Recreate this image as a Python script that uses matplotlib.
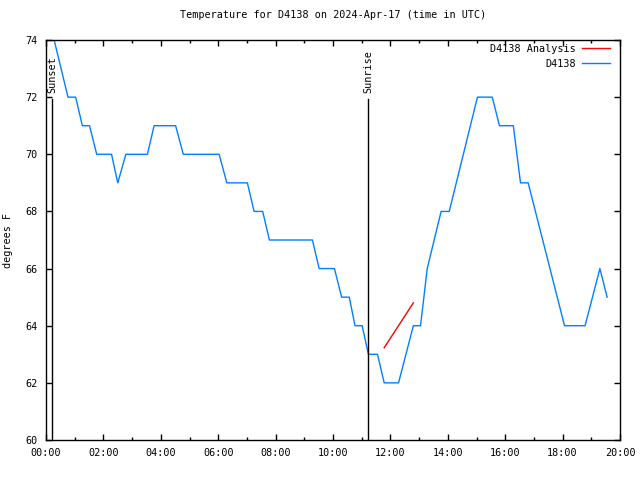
import matplotlib
matplotlib.use("Agg")
import matplotlib.pyplot as plt
from matplotlib.ticker import MultipleLocator, FuncFormatter

# observed temperature (UTC time, degrees F)
obs_times = ["00:17", "00:46", "01:02", "01:16", "01:31", "01:46", "02:17", "02:30",
             "02:47", "03:32", "03:46", "04:31", "04:47", "06:02", "06:18", "07:01",
             "07:15", "07:33", "07:47", "09:17", "09:31", "10:03", "10:18", "10:34",
             "10:46", "11:01", "11:14", "11:33", "11:47", "12:17", "12:48", "13:03",
             "13:17", "13:46", "14:03", "15:02", "15:33", "15:48", "16:17", "16:32",
             "16:48", "18:04", "18:47", "19:18", "19:33"]
obs_temps = [74, 72, 72, 71, 71, 70, 70, 69,
             70, 70, 71, 71, 70, 70, 69, 69,
             68, 68, 67, 67, 66, 66, 65, 65,
             64, 64, 63, 63, 62, 62, 64, 64,
             66, 68, 68, 72, 72, 71, 71, 69,
             69, 64, 64, 66, 65]

# analysis
ana_times = ["11:47", "12:48"]
ana_temps = [63.23, 64.8]

sun_events = ["Sunset", "Sunrise"]
sun_times = ["00:13", "11:13"]


def to_hours(t):
    h, m = t.split(":")
    return int(h) + int(m) / 60.0


font = "DejaVu Sans Mono"
fs = 7.3

fig = plt.figure(figsize=(6.4, 4.8), dpi=100)
ax = fig.add_axes([46 / 640, 40 / 480, 574 / 640, 400 / 480])

ax.plot([to_hours(t) for t in ana_times], ana_temps, color="#ff0000", lw=1.0,
        label="D4138 Analysis")
ax.plot([to_hours(t) for t in obs_times], obs_temps, color="#0080ff", lw=1.0,
        label="D4138")

for name, t in zip(sun_events, sun_times):
    x = to_hours(t)
    ax.plot([x, x], [60, 71.95], color="black", lw=1.0)
    ax.text(x, 72.15, name, rotation=90, ha="center", va="bottom",
            family=font, fontsize=fs)

ax.set_xlim(0, 20)
ax.set_ylim(60, 74)
ax.xaxis.set_major_locator(MultipleLocator(2))
ax.xaxis.set_minor_locator(MultipleLocator(1))
ax.yaxis.set_major_locator(MultipleLocator(2))
ax.xaxis.set_major_formatter(FuncFormatter(lambda v, p: "%02d:00" % int(round(v))))
ax.tick_params(which="both", direction="in", top=True, right=True,
               labelsize=fs, width=1.0)
ax.tick_params(which="major", length=4.5, pad=6)
ax.tick_params(which="minor", length=2.5)
for lab in ax.get_xticklabels() + ax.get_yticklabels():
    lab.set_family(font)
for s in ax.spines.values():
    s.set_linewidth(1.0)

ax.set_ylabel("degrees F", family=font, fontsize=fs, labelpad=9)
ax.set_title("Temperature for D4138 on 2024-Apr-17 (time in UTC)",
             family=font, fontsize=fs, pad=16)

ax.legend(loc="upper right", bbox_to_anchor=(612 / 640, 1 - 42 / 480),
          bbox_transform=fig.transFigure, frameon=False, markerfirst=False,
          prop={"family": font, "size": fs}, handlelength=2.8,
          borderaxespad=0.0, borderpad=0.2, labelspacing=0.45,
          handletextpad=0.6)

fig.savefig("out.png", dpi=100)
